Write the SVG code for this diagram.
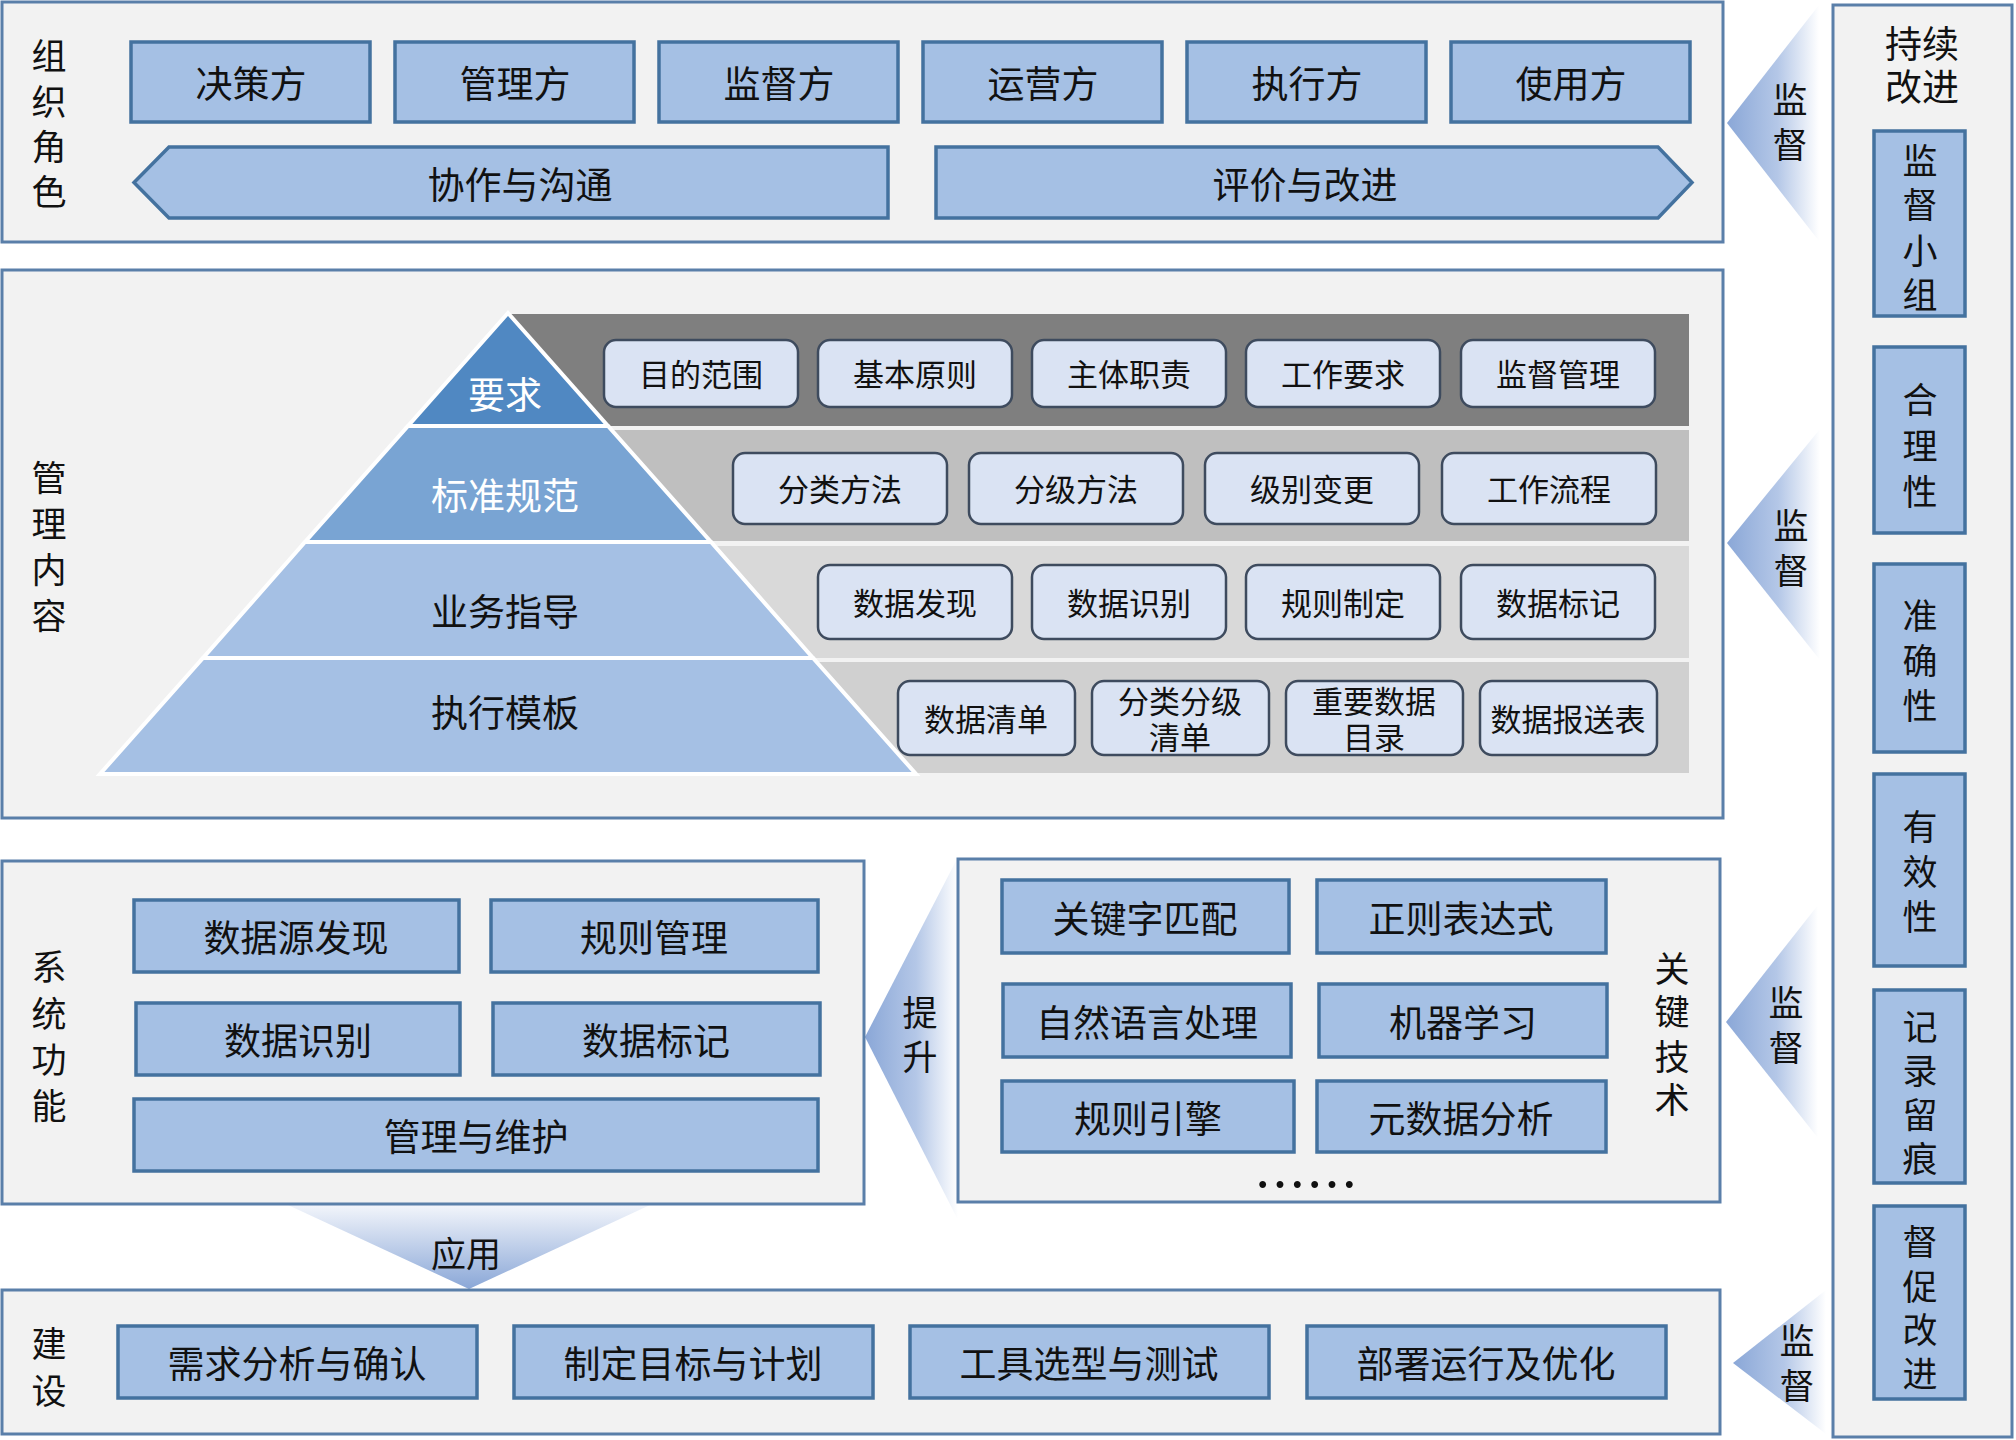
<svg xmlns="http://www.w3.org/2000/svg" width="2016" height="1440" viewBox="0 0 2016 1440">
<defs>
<style>
.cont{fill:#f2f2f2;stroke:#5a7fa9;stroke-width:3}
.node{fill:#a5c0e4;stroke:#44729f;stroke-width:3.5}
.rnode{fill:#dae3f3;stroke:#3e4b5e;stroke-width:2.5}
.t{font-family:"Liberation Sans","Noto Sans CJK SC",sans-serif;font-size:37px;fill:#111;text-anchor:middle;dominant-baseline:central;transform:translateY(2px)}
.s{font-size:31px}
.m{font-size:35px}
.w{fill:#ffffff}
.dots{font-family:"Noto Sans CJK SC",sans-serif;font-size:52px;transform:none}
.lay{stroke:#ffffff;stroke-width:4;stroke-linejoin:miter}
</style>
<linearGradient id="gL" x1="0" y1="0" x2="1" y2="0">
<stop offset="0" stop-color="#8aa7d7"/>
<stop offset="0.55" stop-color="#b4c7e7"/>
<stop offset="1" stop-color="#ffffff"/>
</linearGradient>
<linearGradient id="gD" x1="0" y1="0" x2="0" y2="1">
<stop offset="0" stop-color="#f2f5fb"/>
<stop offset="1" stop-color="#8aa7d7"/>
</linearGradient>
</defs>
<rect x="0" y="0" width="2016" height="1440" fill="#ffffff"/>

<!-- connectors -->
<g id="connectors">
<polygon points="1727,123 1819,5 1819,241" fill="url(#gL)"/>
<polygon points="1727,543 1820,429 1820,660" fill="url(#gL)"/>
<polygon points="1726,1022 1818,905 1818,1138" fill="url(#gL)"/>
<polygon points="1733,1363 1826,1290 1826,1434" fill="url(#gL)"/>
<polygon points="865,1037 958,857 958,1220" fill="url(#gL)"/>
<polygon points="288,1205 650,1205 469,1289" fill="url(#gD)"/>
<text class="t m"><tspan x="1790" y="98">监</tspan><tspan x="1790" y="143">督</tspan></text>
<text class="t m"><tspan x="1791" y="524">监</tspan><tspan x="1791" y="569">督</tspan></text>
<text class="t m"><tspan x="1786" y="1001">监</tspan><tspan x="1786" y="1046">督</tspan></text>
<text class="t m"><tspan x="1797" y="1339">监</tspan><tspan x="1797" y="1384">督</tspan></text>
<text class="t m"><tspan x="920" y="1011">提</tspan><tspan x="920" y="1055">升</tspan></text>
<text class="t m" x="466" y="1252">应用</text>
</g>

<!-- 组织角色 -->
<g id="org-roles">
<rect class="cont" x="2" y="2" width="1721" height="240"/>
<text class="t m"><tspan x="49" y="54">组</tspan><tspan x="49" y="100">织</tspan><tspan x="49" y="145">角</tspan><tspan x="49" y="190">色</tspan></text>
</g>
<g id="role-jueceifang"><rect class="node" x="131" y="42" width="239" height="80"/><text class="t" x="251" y="83">决策方</text></g>
<g id="role-guanlifang"><rect class="node" x="395" y="42" width="239" height="80"/><text class="t" x="515" y="83">管理方</text></g>
<g id="role-jiandufang"><rect class="node" x="659" y="42" width="239" height="80"/><text class="t" x="779" y="83">监督方</text></g>
<g id="role-yunyingfang"><rect class="node" x="923" y="42" width="239" height="80"/><text class="t" x="1043" y="83">运营方</text></g>
<g id="role-zhixingfang"><rect class="node" x="1187" y="42" width="239" height="80"/><text class="t" x="1307" y="83">执行方</text></g>
<g id="role-shiyongfang"><rect class="node" x="1451" y="42" width="239" height="80"/><text class="t" x="1571" y="83">使用方</text></g>
<g id="collab"><polygon class="node" points="169,147 888,147 888,218 169,218 134,182.5"/><text class="t" x="520" y="184">协作与沟通</text></g>
<g id="evaluate"><polygon class="node" points="936,147 1658,147 1692,182.5 1658,218 936,218"/><text class="t" x="1305" y="184">评价与改进</text></g>

<!-- 管理内容 -->
<g id="mgmt-content">
<rect class="cont" x="2" y="270" width="1721" height="548"/>
<text class="t m"><tspan x="49" y="476">管</tspan><tspan x="49" y="522">理</tspan><tspan x="49" y="568">内</tspan><tspan x="49" y="614">容</tspan></text>
<rect x="508" y="314" width="1181" height="112" fill="#7f7f7f"/>
<rect x="410" y="430" width="1279" height="111" fill="#bfbfbf"/>
<rect x="300" y="546" width="1389" height="112" fill="#d9d9d9"/>
<rect x="200" y="662" width="1489" height="111" fill="#d0d0d0"/>
</g>
<g id="pyr-yaoqiu"><polygon class="lay" points="508,313 608,426 408,426" fill="#5088c2"/><text class="t w" x="505" y="394">要求</text></g>
<g id="pyr-biaozhun"><polygon class="lay" points="408,426 608,426 711,542 305,542" fill="#79a4d3"/><text class="t w" x="505" y="495">标准规范</text></g>
<g id="pyr-yewu"><polygon class="lay" points="305,542 711,542 813,658 203,658" fill="#a5c0e4"/><text class="t" x="505" y="611">业务指导</text></g>
<g id="pyr-zhixing"><polygon class="lay" points="203,658 813,658 916,774 100,774" fill="#a5c0e4"/><text class="t" x="505" y="712">执行模板</text></g>

<g id="r1-1"><rect class="rnode" x="604" y="340" width="194" height="67" rx="12"/><text class="t s" x="701" y="373">目的范围</text></g>
<g id="r1-2"><rect class="rnode" x="818" y="340" width="194" height="67" rx="12"/><text class="t s" x="915" y="373">基本原则</text></g>
<g id="r1-3"><rect class="rnode" x="1032" y="340" width="194" height="67" rx="12"/><text class="t s" x="1129" y="373">主体职责</text></g>
<g id="r1-4"><rect class="rnode" x="1246" y="340" width="194" height="67" rx="12"/><text class="t s" x="1343" y="373">工作要求</text></g>
<g id="r1-5"><rect class="rnode" x="1461" y="340" width="194" height="67" rx="12"/><text class="t s" x="1558" y="373">监督管理</text></g>

<g id="r2-1"><rect class="rnode" x="733" y="453" width="214" height="71" rx="12"/><text class="t s" x="840" y="488">分类方法</text></g>
<g id="r2-2"><rect class="rnode" x="969" y="453" width="214" height="71" rx="12"/><text class="t s" x="1076" y="488">分级方法</text></g>
<g id="r2-3"><rect class="rnode" x="1205" y="453" width="214" height="71" rx="12"/><text class="t s" x="1312" y="488">级别变更</text></g>
<g id="r2-4"><rect class="rnode" x="1442" y="453" width="214" height="71" rx="12"/><text class="t s" x="1549" y="488">工作流程</text></g>

<g id="r3-1"><rect class="rnode" x="818" y="565" width="194" height="74" rx="12"/><text class="t s" x="915" y="602">数据发现</text></g>
<g id="r3-2"><rect class="rnode" x="1032" y="565" width="194" height="74" rx="12"/><text class="t s" x="1129" y="602">数据识别</text></g>
<g id="r3-3"><rect class="rnode" x="1246" y="565" width="194" height="74" rx="12"/><text class="t s" x="1343" y="602">规则制定</text></g>
<g id="r3-4"><rect class="rnode" x="1461" y="565" width="194" height="74" rx="12"/><text class="t s" x="1558" y="602">数据标记</text></g>

<g id="r4-1"><rect class="rnode" x="898" y="681" width="177" height="74" rx="12"/><text class="t s" x="986" y="718">数据清单</text></g>
<g id="r4-2"><rect class="rnode" x="1092" y="681" width="177" height="74" rx="12"/><text class="t s"><tspan x="1180" y="700">分类分级</tspan><tspan x="1180" y="736">清单</tspan></text></g>
<g id="r4-3"><rect class="rnode" x="1286" y="681" width="177" height="74" rx="12"/><text class="t s"><tspan x="1374" y="700">重要数据</tspan><tspan x="1374" y="736">目录</tspan></text></g>
<g id="r4-4"><rect class="rnode" x="1480" y="681" width="177" height="74" rx="12"/><text class="t s" x="1568" y="718">数据报送表</text></g>

<!-- 系统功能 -->
<g id="sys-func">
<rect class="cont" x="2" y="861" width="862" height="343"/>
<text class="t m"><tspan x="49" y="965">系</tspan><tspan x="49" y="1012">统</tspan><tspan x="49" y="1058">功</tspan><tspan x="49" y="1104">能</tspan></text>
</g>
<g id="f-source"><rect class="node" x="134" y="900" width="325" height="72"/><text class="t" x="296" y="937">数据源发现</text></g>
<g id="f-rule"><rect class="node" x="491" y="900" width="327" height="72"/><text class="t" x="654" y="937">规则管理</text></g>
<g id="f-ident"><rect class="node" x="136" y="1003" width="324" height="72"/><text class="t" x="298" y="1040">数据识别</text></g>
<g id="f-mark"><rect class="node" x="493" y="1003" width="327" height="72"/><text class="t" x="656" y="1040">数据标记</text></g>
<g id="f-maint"><rect class="node" x="134" y="1099" width="684" height="72"/><text class="t" x="476" y="1136">管理与维护</text></g>

<!-- 关键技术 -->
<g id="key-tech">
<rect class="cont" x="958" y="859" width="762" height="343"/>
<text class="t m"><tspan x="1672" y="967">关</tspan><tspan x="1672" y="1010">键</tspan><tspan x="1672" y="1055">技</tspan><tspan x="1672" y="1098">术</tspan></text>
<text class="t dots" x="1306" y="1181">……</text>
</g>
<g id="k-keyword"><rect class="node" x="1002" y="880" width="287" height="73"/><text class="t" x="1145" y="918">关键字匹配</text></g>
<g id="k-regex"><rect class="node" x="1317" y="880" width="289" height="73"/><text class="t" x="1461" y="918">正则表达式</text></g>
<g id="k-nlp"><rect class="node" x="1003" y="984" width="288" height="73"/><text class="t" x="1147" y="1022">自然语言处理</text></g>
<g id="k-ml"><rect class="node" x="1319" y="984" width="288" height="73"/><text class="t" x="1463" y="1022">机器学习</text></g>
<g id="k-engine"><rect class="node" x="1002" y="1081" width="292" height="71"/><text class="t" x="1148" y="1118">规则引擎</text></g>
<g id="k-meta"><rect class="node" x="1317" y="1081" width="289" height="71"/><text class="t" x="1461" y="1118">元数据分析</text></g>

<!-- 建设 -->
<g id="build">
<rect class="cont" x="2" y="1290" width="1718" height="144"/>
<text class="t m"><tspan x="49" y="1342">建</tspan><tspan x="49" y="1389">设</tspan></text>
</g>
<g id="b-req"><rect class="node" x="118" y="1326" width="359" height="72"/><text class="t" x="297" y="1363">需求分析与确认</text></g>
<g id="b-plan"><rect class="node" x="514" y="1326" width="359" height="72"/><text class="t" x="693" y="1363">制定目标与计划</text></g>
<g id="b-tool"><rect class="node" x="910" y="1326" width="359" height="72"/><text class="t" x="1089" y="1363">工具选型与测试</text></g>
<g id="b-deploy"><rect class="node" x="1307" y="1326" width="359" height="72"/><text class="t" x="1486" y="1363">部署运行及优化</text></g>

<!-- 持续改进 -->
<g id="continuous">
<rect class="cont" x="1833" y="5" width="179" height="1432"/>
<text class="t"><tspan x="1922" y="43">持续</tspan><tspan x="1922" y="86">改进</tspan></text>
</g>
<g id="c-group"><rect class="node" x="1874" y="131" width="91" height="185"/><text class="t m"><tspan x="1920" y="159">监</tspan><tspan x="1920" y="203">督</tspan><tspan x="1920" y="249">小</tspan><tspan x="1920" y="293">组</tspan></text></g>
<g id="c-reason"><rect class="node" x="1874" y="347" width="91" height="186"/><text class="t m"><tspan x="1920" y="398">合</tspan><tspan x="1920" y="444">理</tspan><tspan x="1920" y="490">性</tspan></text></g>
<g id="c-accur"><rect class="node" x="1874" y="564" width="91" height="188"/><text class="t m"><tspan x="1920" y="614">准</tspan><tspan x="1920" y="659">确</tspan><tspan x="1920" y="704">性</tspan></text></g>
<g id="c-valid"><rect class="node" x="1874" y="774" width="91" height="192"/><text class="t m"><tspan x="1920" y="825">有</tspan><tspan x="1920" y="870">效</tspan><tspan x="1920" y="915">性</tspan></text></g>
<g id="c-record"><rect class="node" x="1874" y="990" width="91" height="193"/><text class="t m"><tspan x="1920" y="1025">记</tspan><tspan x="1920" y="1069">录</tspan><tspan x="1920" y="1113">留</tspan><tspan x="1920" y="1157">痕</tspan></text></g>
<g id="c-urge"><rect class="node" x="1874" y="1206" width="91" height="193"/><text class="t m"><tspan x="1920" y="1240">督</tspan><tspan x="1920" y="1285">促</tspan><tspan x="1920" y="1328">改</tspan><tspan x="1920" y="1372">进</tspan></text></g>
</svg>
